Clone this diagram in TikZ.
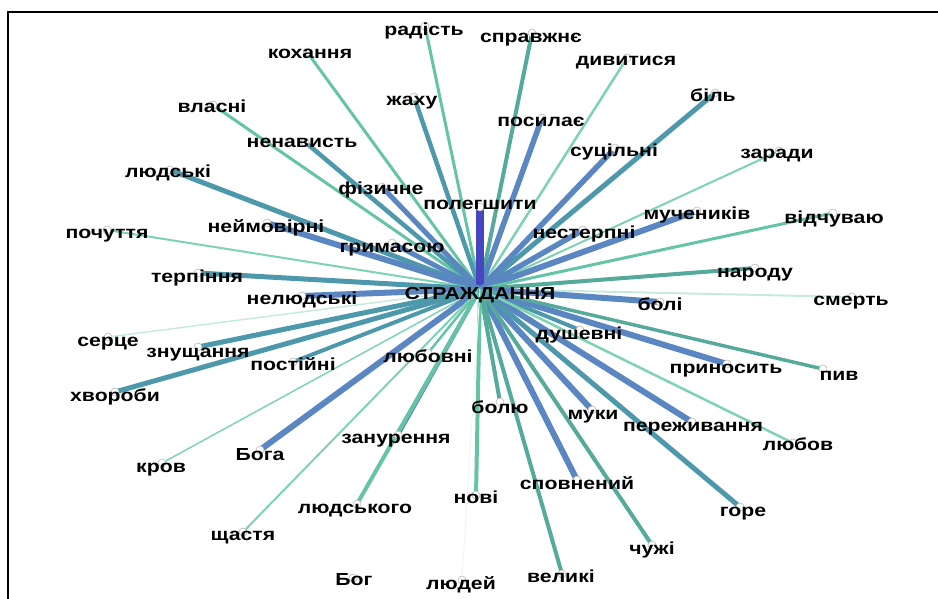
\documentclass[tikz,border=0pt]{standalone}
\usepackage{fontspec}
\setmainfont{Liberation Sans}[FakeStretch=1.22]
\definecolor{cLG}{HTML}{7DD3B4}
\definecolor{cG}{HTML}{66C4A6}
\definecolor{cT}{HTML}{55AA9C}
\definecolor{cTB}{HTML}{4E98AC}
\definecolor{cSB}{HTML}{5A86C2}
\definecolor{cP}{HTML}{4646C2}
\definecolor{cVL}{HTML}{C6EBDD}
\definecolor{cF}{HTML}{EEF7F4}
\tikzset{
  dotnode/.style={circle, draw=gray!55, fill=white, minimum size=8pt, inner sep=0pt, line width=0.6pt},
  lbl/.style={font=\fontsize{17.4}{17.4}\selectfont\bfseries, inner sep=0pt, anchor=base, text=black},
  frameline/.style={line width=1.8pt, black}
}
\newcommand{\spokedata}{%
425/26/424/31/радість/cG/3,
532/33/531/38/справжнє/cT/4,
627/58/626/61/дивитися/cLG/2.5,
715/93/713/97/біль/cTB/5,
779/151/777/154/заради/cLG/2,
307/52/310/54/кохання/cG/3,
213/105/212/108/власні/cG/3,
305/142/302/143/ненависть/cTB/4.5,
170/170/168/173/людські/cTB/5,
414/97/412/101/жаху/cTB/4.5,
542/118/541/122/посилає/cSB/5.5,
615/148/614/152/суцільні/cSB/5.5,
382/187/381/190/фізичне/cSB/5,
480/207/480/205/полегшити/cP/8,
267/223/266/228/неймовірні/cSB/6,
392/243/392/247/гримасою/cSB/5,
583/230/584/234/нестерпні/cSB/5.5,
697/211/697/215/мучеників/cSB/6,
833/213/834/218/відчуваю/cG/3,
107/230/107/233/почуття/cLG/2,
198/273/197/278/терпіння/cTB/5,
755/268/755/272/народу/cT/4,
302/296/302/299/нелюдські/cSB/6,
852/297/851/300/смерть/cVL/2,
660/302/660/305/болі/cSB/6,
108/337/108/341/серце/cVL/1.5,
198/347/198/352/знущання/cTB/5,
293/362/293/365/постійні/cTB/4,
580/330/579/334/душевні/cTB/4,
428/353/428/357/любовні/cG/2.5,
115/392/115/396/хвороби/cTB/5,
727/364/726/368/приносить/cSB/6,
823/369/839/375/пив/cT/3.5,
500/402/500/408/болю/cT/4,
592/410/593/414/муки/cSB/6,
692/422/693/426/переживання/cSB/6,
793/443/798/445/любов/cLG/2.5,
162/463/161/467/кров/cLG/1.5,
260/450/260/455/Бога/cSB/6,
398/435/396/438/занурення/cSB/4,
357/504/355/508/людського/cG/4,
243/532/243/535/щастя/cLG/2,
476/495/476/498/нові/cG/4,
577/480/577/484/сповнений/cSB/6,
652/545/652/549/чужі/cT/4,
740/507/743/511/горе/cTB/5,
562/574/561/577/великі/cT/4,
462/580/461/584/людей/cF/1}
\begin{document}
\begin{tikzpicture}[x=1pt,y=-1pt]
\useasboundingbox (0,0) rectangle (938,599);
\draw[frameline] (8,599) coordinate (fbl) -- (8,12) coordinate (ftl) -- (938,12) coordinate (ftr);
\coordinate (c) at (480,289);
% spokes
\foreach \px/\py/\lx/\ly/\tx/\cl/\lw [count=\i] in \spokedata {
  \coordinate (p\i) at (\px,\py);
  \draw[draw=\cl, line width=\lw pt] (c) -- (p\i);
}
% end dots and labels
\foreach \px/\py/\lx/\ly/\tx/\cl/\lw [count=\i] in \spokedata {
  \node[dotnode] (d\i) at (p\i) {};
}
\node[dotnode] (dbog) at (353,578) {};
\foreach \px/\py/\lx/\ly/\tx/\cl/\lw [count=\i] in \spokedata {
  \node[lbl] (l\i) at (\lx,\ly+5) {\tx};
}
\node[lbl] (lbog) at (354,585) {Бог};
\node[lbl] (center) at (480,299) {СТРАЖДАННЯ};
\end{tikzpicture}
\end{document}
